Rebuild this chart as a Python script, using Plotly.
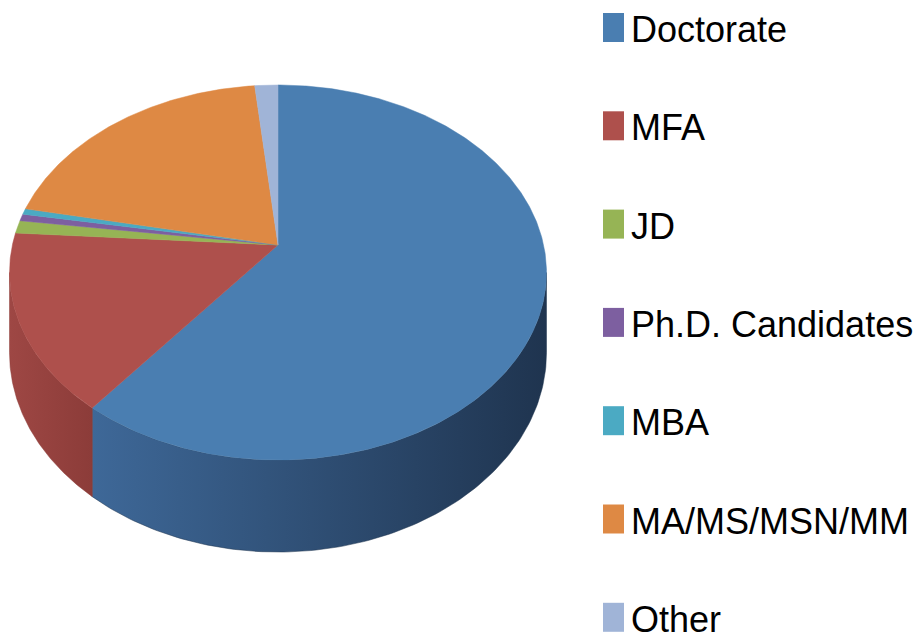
import numpy as np
import plotly.graph_objects as go

# ---- data ----
categories = ["Doctorate", "MFA", "JD", "Ph.D. Candidates", "MBA", "MA/MS/MSN/MM", "Other"]
values = [60.5, 15.4, 1.1, 0.6, 0.5, 20.1, 1.6]
top_colors = ["#4A7EB1", "#AE504C", "#96B455", "#7D5FA0", "#4BAAC3", "#DE8944", "#A0B4D7"]
side_light = ["#3E6898", "#9E4744", "#86A24C", "#70558F", "#4398AD", "#C77B3C", "#8FA2C2"]
side_dark = ["#1F344F", "#8C3C39", "#73893F", "#5E4779", "#387F91", "#A86732", "#7888A4"]

# ---- pie geometry (pixel space of the 919x641 canvas) ----
W, H = 919, 641
cx, cy = 278.0, 245.0        # projected centre of the top face
A, B = 265.6, 183.5          # horizontal / vertical radii
k = 0.1467                   # perspective factor
depth = 78.5                 # wall height

def proj(theta_deg):
    t = np.radians(theta_deg)
    u, v = np.sin(t), np.cos(t)
    s = 1.0 + k * v
    return cx + A * u / s, cy - B * v / s, depth / s

total = float(sum(values))
angles = np.concatenate([[0.0], np.cumsum(values) / total * 360.0])

sil_r = np.degrees(np.arccos(-k))        # right silhouette
sil_l = 360.0 - sil_r                    # left silhouette

fig = go.Figure()

# walls (front, visible part only)
for i, name in enumerate(categories):
    a0, a1 = max(angles[i], sil_r), min(angles[i + 1], sil_l)
    if a1 <= a0:
        continue
    th = np.linspace(a0, a1, 120)
    x, y, d = proj(th)
    xs = np.concatenate([x, x[::-1], [x[0]]])
    ys = np.concatenate([y, (y + d)[::-1], [y[0]]])
    fig.add_trace(go.Scatter(
        x=xs, y=ys, mode="lines", fill="toself",
        line=dict(width=0.5, color=side_dark[i]),
        fillgradient=dict(type="horizontal",
                          colorscale=[[0, side_light[i]], [1, side_dark[i]]]),
        hoverinfo="skip", showlegend=False))

# top faces
for i, name in enumerate(categories):
    th = np.linspace(angles[i], angles[i + 1], max(4, int((angles[i + 1] - angles[i]) * 2)))
    x, y, _ = proj(th)
    xs = np.concatenate([[cx], x, [cx]])
    ys = np.concatenate([[cy], y, [cy]])
    fig.add_trace(go.Scatter(
        x=xs, y=ys, mode="lines", fill="toself",
        fillcolor=top_colors[i], line=dict(width=0.5, color=top_colors[i]),
        name=name, hoveron="fills",
        text=f"{name}: {values[i] / total * 100:.1f}%", hoverinfo="text",
        showlegend=False))

# ---- legend (drawn manually to match the tall spacing) ----
leg_x0, leg_x1 = 603, 624
leg_y_first, leg_step = 27.5, 98.3
leg_font = dict(family="Liberation Sans, Arial, sans-serif", size=36, color="#000000")
for i, name in enumerate(categories):
    yc = leg_y_first + i * leg_step
    fig.add_shape(type="rect", xref="x", yref="y",
                  x0=leg_x0, x1=leg_x1, y0=yc - 14.5, y1=yc + 14.5,
                  fillcolor=top_colors[i], line=dict(width=0))
    fig.add_annotation(x=629, y=yc + 2, xref="x", yref="y", text=name,
                       showarrow=False, xanchor="left", yanchor="middle",
                       font=leg_font)

fig.update_xaxes(range=[0, W], visible=False, fixedrange=True)
fig.update_yaxes(range=[H, 0], visible=False, fixedrange=True)
fig.update_layout(width=W, height=H, autosize=False,
                  margin=dict(l=0, r=0, t=0, b=0),
                  paper_bgcolor="white", plot_bgcolor="white",
                  showlegend=False)

fig.write_html("out.html",
               config={"displayModeBar": False},
               post_script="document.body.style.margin='0px';document.body.style.overflow='hidden';")
